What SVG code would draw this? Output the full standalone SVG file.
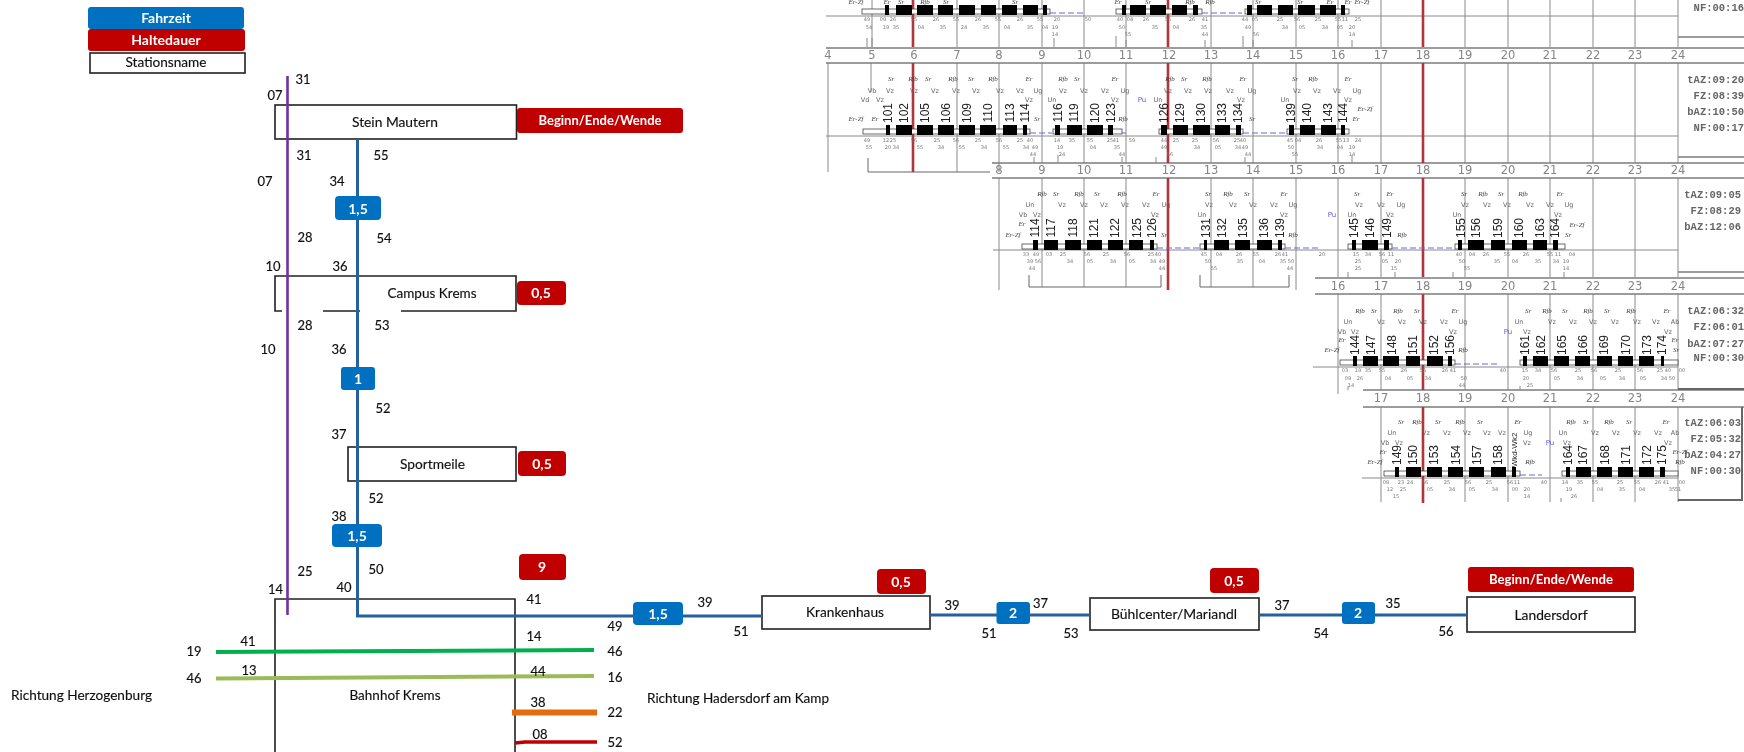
<svg xmlns="http://www.w3.org/2000/svg" width="1744" height="752" viewBox="0 0 1744 752">
<style>
text{font-family:Lato,"Liberation Sans",sans-serif}
.st{fill:#fff;stroke:#222;stroke-width:1.6}
.fr{fill:none;stroke:#222;stroke-width:1.6}
.blue{fill:#0070C0}.red{fill:#C00000}
.bt{fill:#fff;font-weight:700;text-anchor:middle}
.l{fill:#111;font-size:13px;text-anchor:middle;stroke:#111;stroke-width:.15}
.c{fill:#111;font-size:13px;text-anchor:middle;stroke:#111;stroke-width:.15}
.g{stroke:#8a8a8a;stroke-width:1;fill:none}
.k{stroke:#666;stroke-width:1;fill:none}
.h{stroke:#7c7c7c;stroke-width:1.6;fill:none}
.rd{stroke:#b0343c;stroke-width:2.600;fill:none}
.hl{font-family:"DejaVu Sans",sans-serif;font-size:11.5px;fill:#858585;text-anchor:middle}
.n{font-family:"Liberation Sans",sans-serif;font-size:12px;fill:#222;text-anchor:middle}
.i{font-family:"Liberation Serif",serif;font-style:italic;font-size:7px;fill:#444;text-anchor:middle}
.v{font-family:"DejaVu Sans",sans-serif;font-size:6.5px;fill:#666;text-anchor:middle}
.s{font-family:"DejaVu Sans",sans-serif;font-size:5px;fill:#777;text-anchor:middle}
.p{font-family:"DejaVu Sans",sans-serif;font-size:7px;fill:#5a5ae0;text-anchor:middle}
.m{font-family:"Liberation Mono",monospace;font-size:10.5px;fill:#666;text-anchor:end;font-weight:700}
.dash{stroke:#6a6ad8;stroke-width:1;stroke-dasharray:6 3;fill:none}
.tr{fill:#fff;stroke:#444;stroke-width:.8}
</style>
<defs>
<filter id="b1" x="-2%" y="-2%" width="104%" height="104%"><feGaussianBlur stdDeviation="0.4"/></filter>
<filter id="b2" x="-2%" y="-2%" width="104%" height="104%"><feGaussianBlur stdDeviation="0.55"/></filter>
</defs>
<rect width="1744" height="752" fill="#fff"/>

<g id="umlaufplan" filter="url(#b2)">
<path class="g" d="M872 0V47M957 0V47M999 0V47M1042 0V47M1084 0V47M1126 0V47M1211 0V47M1253 0V47M1296 0V47M1338 0V47M1381 0V47M1465 0V47M1508 0V47M1550 0V47M1593 0V47M1635 0V47M1678 0V47"/>
<path class="g" d="M826 16H1678"/>
<path class="g" d="M828 63V172M871 63V92M957 63V172M999 63V172M1042 63V163M1084 63V163M1126 63V163M1211 63V163M1253 63V163M1296 63V163M1338 63V163M1381 63V163M1465 63V163M1508 63V163M1550 63V163M1593 63V163M1635 63V163M1678 63V163"/>
<path class="g" d="M826 136H1678"/>
<path class="k" d="M868 158V172H990"/>
<path class="g" d="M999 178V290M1042 178V287M1084 178V287M1126 178V287M1211 178V287M1253 178V287M1296 178V290M1338 178V277M1381 178V277M1465 178V277M1508 178V277M1550 178V277M1593 178V277M1635 178V277M1678 178V277"/>
<path class="g" d="M993 250H1678"/>
<path class="k" d="M1029 275V287H1161V275M1200 275V287H1289V275"/>
<path class="g" d="M1338 294V394M1381 294V390M1465 294V390M1508 294V390M1550 294V390M1593 294V390M1635 294V390M1678 294V390"/>
<path class="g" d="M1313 367H1678"/>
<path class="g" d="M1381 407V502M1465 407V502M1508 407V502M1550 407V502M1593 407V502M1635 407V502M1678 407V502"/>
<path class="g" d="M1362 478H1678"/>
<path class="h" d="M826 48H1744M826 63H1744M992 163H1744M992 178H1744M1315 278H1744M1315 294H1744M1363 390H1744M1363 407H1744"/>
<path class="h" d="M1678 37H1744M1678 157H1744M1678 272H1744"/>
<path d="M1678 389H1744M1678 500H1742V407" fill="none" stroke="#666" stroke-width="2"/>
<path class="rd" d="M913 0V47M1168 0V47M1423 0V47M913 63V172M1168 63V163M1423 63V163M1168 178V290M1423 178V277M1423 294V390M1423 407V503"/>
<text class="hl" y="59"><tspan x="828">4</tspan><tspan x="872">5</tspan><tspan x="914">6</tspan><tspan x="957">7</tspan><tspan x="999">8</tspan><tspan x="1042">9</tspan><tspan x="1084">10</tspan><tspan x="1126">11</tspan><tspan x="1169">12</tspan><tspan x="1211">13</tspan><tspan x="1253">14</tspan><tspan x="1296">15</tspan><tspan x="1338">16</tspan><tspan x="1381">17</tspan><tspan x="1423">18</tspan><tspan x="1465">19</tspan><tspan x="1508">20</tspan><tspan x="1550">21</tspan><tspan x="1593">22</tspan><tspan x="1635">23</tspan><tspan x="1678">24</tspan></text>
<text class="hl" y="174"><tspan x="999">8</tspan><tspan x="1042">9</tspan><tspan x="1084">10</tspan><tspan x="1126">11</tspan><tspan x="1169">12</tspan><tspan x="1211">13</tspan><tspan x="1253">14</tspan><tspan x="1296">15</tspan><tspan x="1338">16</tspan><tspan x="1381">17</tspan><tspan x="1423">18</tspan><tspan x="1465">19</tspan><tspan x="1508">20</tspan><tspan x="1550">21</tspan><tspan x="1593">22</tspan><tspan x="1635">23</tspan><tspan x="1678">24</tspan></text>
<text class="hl" y="290"><tspan x="1338">16</tspan><tspan x="1381">17</tspan><tspan x="1423">18</tspan><tspan x="1465">19</tspan><tspan x="1508">20</tspan><tspan x="1550">21</tspan><tspan x="1593">22</tspan><tspan x="1635">23</tspan><tspan x="1678">24</tspan></text>
<text class="hl" y="402"><tspan x="1381">17</tspan><tspan x="1423">18</tspan><tspan x="1465">19</tspan><tspan x="1508">20</tspan><tspan x="1550">21</tspan><tspan x="1593">22</tspan><tspan x="1635">23</tspan><tspan x="1678">24</tspan></text>
<rect class="tr" x="862" y="9" width="188" height="5"/><rect class="tr" x="1116" y="9" width="86" height="5"/><rect class="tr" x="1245" y="9" width="104" height="5"/>
<rect class="tr" x="863" y="129" width="167" height="5"/><rect class="tr" x="1053" y="129" width="69" height="5"/><rect class="tr" x="1159" y="129" width="84" height="5"/><rect class="tr" x="1287" y="129" width="62" height="5"/>
<rect class="tr" x="1022" y="244" width="135" height="5"/><rect class="tr" x="1200" y="244" width="85" height="5"/><rect class="tr" x="1348" y="244" width="44" height="5"/><rect class="tr" x="1455" y="244" width="110" height="5"/>
<rect class="tr" x="1340" y="360" width="115" height="5"/><rect class="tr" x="1520" y="360" width="158" height="5"/>
<rect class="tr" x="1384" y="471" width="136" height="5"/><rect class="tr" x="1562" y="471" width="116" height="5"/>
<path class="dash" d="M1050 13H1083M1202 13H1242M1030 133H1052M1122 133H1126M1243 133H1285M1157 248H1200M1285 248H1318M1392 248H1453M1455 364H1500M1520 475H1542"/>
<path fill="#000" d="M885 5h4v10h-4zM896 5h16v10h-16zM917 5h16v10h-16zM938 5h15v10h-15zM959 5h16v10h-16zM981 5h15v10h-15zM1002 5h15v10h-15zM1023 5h15v10h-15zM1043 5h4v10h-4zM1122 5h4v10h-4zM1130 5h16v10h-16zM1150 5h16v10h-16zM1172 5h15v10h-15zM1193 5h5v10h-5zM1247 5h5v10h-5zM1257 5h15v10h-15zM1278 5h15v10h-15zM1298 5h17v10h-17zM1320 5h16v10h-16zM1341 5h4v10h-4z"/>
<path fill="#000" d="M886 125h4v10h-4zM896 125h16v10h-16zM917 125h16v10h-16zM938 125h16v10h-16zM959 125h16v10h-16zM980 125h16v10h-16zM1003 125h14v10h-14zM1023 125h4v10h-4zM1055 125h5v10h-5zM1067 125h15v10h-15zM1087 125h16v10h-16zM1108 125h5v10h-5zM1161 125h6v10h-6zM1173 125h15v10h-15zM1193 125h17v10h-17zM1215 125h15v10h-15zM1236 125h5v10h-5zM1289 125h5v10h-5zM1300 125h15v10h-15zM1321 125h15v10h-15zM1341 125h4v10h-4z"/>
<path fill="#000" d="M1033 240h5v10h-5zM1044 240h14v10h-14zM1065 240h16v10h-16zM1087 240h15v10h-15zM1108 240h15v10h-15zM1129 240h14v10h-14zM1150 240h4v10h-4zM1204 240h3v10h-3zM1214 240h15v10h-15zM1235 240h15v10h-15zM1257 240h15v10h-15zM1278 240h4v10h-4zM1352 240h4v10h-4zM1362 240h16v10h-16zM1384 240h5v10h-5zM1458 240h4v10h-4zM1468 240h16v10h-16zM1491 240h14v10h-14zM1512 240h15v10h-15zM1533 240h14v10h-14zM1553 240h5v10h-5z"/>
<path fill="#000" d="M1353 356h4v10h-4zM1363 356h15v10h-15zM1383 356h16v10h-16zM1406 356h14v10h-14zM1427 356h16v10h-16zM1448 356h4v10h-4zM1523 356h4v10h-4zM1533 356h15v10h-15zM1554 356h15v10h-15zM1575 356h15v10h-15zM1597 356h15v10h-15zM1618 356h15v10h-15zM1639 356h15v10h-15zM1661 356h3v10h-3z"/>
<path fill="#000" d="M1395 467h4v10h-4zM1406 467h15v10h-15zM1427 467h15v10h-15zM1448 467h15v10h-15zM1469 467h15v10h-15zM1491 467h15v10h-15zM1512 467h4v10h-4zM1566 467h4v10h-4zM1576 467h15v10h-15zM1597 467h15v10h-15zM1618 467h15v10h-15zM1639 467h15v10h-15zM1660 467h5v10h-5z"/>
<text class="n" transform="translate(892,113) rotate(-90)">101</text><text class="n" transform="translate(908,113) rotate(-90)">102</text><text class="n" transform="translate(929,113) rotate(-90)">105</text><text class="n" transform="translate(950,113) rotate(-90)">106</text><text class="n" transform="translate(971,113) rotate(-90)">109</text><text class="n" transform="translate(992,113) rotate(-90)">110</text><text class="n" transform="translate(1014,113) rotate(-90)">113</text><text class="n" transform="translate(1029,113) rotate(-90)">114</text><text class="n" transform="translate(1062,113) rotate(-90)">116</text><text class="n" transform="translate(1078,113) rotate(-90)">119</text><text class="n" transform="translate(1099,113) rotate(-90)">120</text><text class="n" transform="translate(1115,113) rotate(-90)">123</text><text class="n" transform="translate(1168,113) rotate(-90)">126</text><text class="n" transform="translate(1184,113) rotate(-90)">129</text><text class="n" transform="translate(1205,113) rotate(-90)">130</text><text class="n" transform="translate(1226,113) rotate(-90)">133</text><text class="n" transform="translate(1242,113) rotate(-90)">134</text><text class="n" transform="translate(1295,113) rotate(-90)">139</text><text class="n" transform="translate(1311,113) rotate(-90)">140</text><text class="n" transform="translate(1332,113) rotate(-90)">143</text><text class="n" transform="translate(1347,113) rotate(-90)">144</text>
<text class="n" transform="translate(1039,228) rotate(-90)">114</text><text class="n" transform="translate(1055,228) rotate(-90)">117</text><text class="n" transform="translate(1077,228) rotate(-90)">118</text><text class="n" transform="translate(1098,228) rotate(-90)">121</text><text class="n" transform="translate(1119,228) rotate(-90)">122</text><text class="n" transform="translate(1141,228) rotate(-90)">125</text><text class="n" transform="translate(1156,228) rotate(-90)">126</text><text class="n" transform="translate(1210,228) rotate(-90)">131</text><text class="n" transform="translate(1226,228) rotate(-90)">132</text><text class="n" transform="translate(1247,228) rotate(-90)">135</text><text class="n" transform="translate(1268,228) rotate(-90)">136</text><text class="n" transform="translate(1284,228) rotate(-90)">139</text><text class="n" transform="translate(1358,228) rotate(-90)">145</text><text class="n" transform="translate(1374,228) rotate(-90)">146</text><text class="n" transform="translate(1391,228) rotate(-90)">149</text><text class="n" transform="translate(1465,228) rotate(-90)">155</text><text class="n" transform="translate(1480,228) rotate(-90)">156</text><text class="n" transform="translate(1502,228) rotate(-90)">159</text><text class="n" transform="translate(1523,228) rotate(-90)">160</text><text class="n" transform="translate(1544,228) rotate(-90)">163</text><text class="n" transform="translate(1559,228) rotate(-90)">164</text>
<text class="n" transform="translate(1359,345) rotate(-90)">144</text><text class="n" transform="translate(1375,345) rotate(-90)">147</text><text class="n" transform="translate(1396,345) rotate(-90)">148</text><text class="n" transform="translate(1417,345) rotate(-90)">151</text><text class="n" transform="translate(1438,345) rotate(-90)">152</text><text class="n" transform="translate(1454,345) rotate(-90)">156</text><text class="n" transform="translate(1529,345) rotate(-90)">161</text><text class="n" transform="translate(1545,345) rotate(-90)">162</text><text class="n" transform="translate(1566,345) rotate(-90)">165</text><text class="n" transform="translate(1587,345) rotate(-90)">166</text><text class="n" transform="translate(1608,345) rotate(-90)">169</text><text class="n" transform="translate(1630,345) rotate(-90)">170</text><text class="n" transform="translate(1651,345) rotate(-90)">173</text><text class="n" transform="translate(1666,345) rotate(-90)">174</text>
<text class="n" transform="translate(1401,455) rotate(-90)">149</text><text class="n" transform="translate(1417,455) rotate(-90)">150</text><text class="n" transform="translate(1438,455) rotate(-90)">153</text><text class="n" transform="translate(1460,455) rotate(-90)">154</text><text class="n" transform="translate(1481,455) rotate(-90)">157</text><text class="n" transform="translate(1502,455) rotate(-90)">158</text><text class="n" transform="translate(1517,450) rotate(-90)" style="font-size:8px">Wkd-Wk2</text><text class="n" transform="translate(1572,455) rotate(-90)">164</text><text class="n" transform="translate(1587,455) rotate(-90)">167</text><text class="n" transform="translate(1609,455) rotate(-90)">168</text><text class="n" transform="translate(1630,455) rotate(-90)">171</text><text class="n" transform="translate(1651,455) rotate(-90)">172</text><text class="n" transform="translate(1666,455) rotate(-90)">175</text>
<text class="i" y="4"><tspan x="856">Er-Zf</tspan><tspan x="887">Er</tspan><tspan x="901">Sr</tspan><tspan x="925">Rfb</tspan><tspan x="946">Sr</tspan><tspan x="1015">Sr</tspan><tspan x="1118">Er</tspan><tspan x="1148">Sr</tspan><tspan x="1190">Rfb</tspan><tspan x="1210">Rfb</tspan><tspan x="1258">Sr</tspan><tspan x="1300">Sr</tspan><tspan x="1330">Er</tspan><tspan x="1348">Er</tspan><tspan x="1362">Er-Zf</tspan></text>
<text class="i" y="81"><tspan x="891">Sr</tspan><tspan x="913">Rfb</tspan><tspan x="928">Sr</tspan><tspan x="953">Rfb</tspan><tspan x="971">Sr</tspan><tspan x="993">Rfb</tspan><tspan x="1029">Er</tspan><tspan x="1063">Rfb</tspan><tspan x="1077">Sr</tspan><tspan x="1115">Er</tspan><tspan x="1170">Rfb</tspan><tspan x="1184">Sr</tspan><tspan x="1207">Rfb</tspan><tspan x="1243">Er</tspan><tspan x="1295">Sr</tspan><tspan x="1313">Rfb</tspan><tspan x="1348">Er</tspan></text>
<text class="v" y="93"><tspan x="872">Vb</tspan><tspan x="890">Vz</tspan><tspan x="914">Vz</tspan><tspan x="935">Vz</tspan><tspan x="956">Vz</tspan><tspan x="976">Vz</tspan><tspan x="1000">Vz</tspan><tspan x="1020">Vz</tspan><tspan x="1038">Ug</tspan><tspan x="1063">Vz</tspan><tspan x="1084">Vz</tspan><tspan x="1105">Vz</tspan><tspan x="1125">Ug</tspan><tspan x="1168">Vz</tspan><tspan x="1188">Vz</tspan><tspan x="1208">Vz</tspan><tspan x="1230">Vz</tspan><tspan x="1252">Ug</tspan><tspan x="1297">Vz</tspan><tspan x="1317">Vz</tspan><tspan x="1337">Vz</tspan><tspan x="1357">Ug</tspan></text>
<text class="v" y="102"><tspan x="865">Vd</tspan><tspan x="880">Vz</tspan><tspan x="1029">Vz</tspan><tspan x="1052">Un</tspan><tspan x="1115">Vz</tspan><tspan x="1158">Un</tspan><tspan x="1241">Vz</tspan><tspan x="1285">Un</tspan><tspan x="1348">Vz</tspan></text>
<text class="p" x="1142" y="102">Pu</text>
<text class="i" y="121"><tspan x="856">Er-Zf</tspan><tspan x="875">Er</tspan><tspan x="1037">Sr</tspan><tspan x="1123">Rfb</tspan><tspan x="1252">Sr</tspan><tspan x="1356">Er</tspan></text>
<text class="i" x="1365" y="111">Er-Zf</text>
<text class="i" y="196"><tspan x="1042">Rfb</tspan><tspan x="1056">Sr</tspan><tspan x="1079">Rfb</tspan><tspan x="1097">Sr</tspan><tspan x="1122">Rfb</tspan><tspan x="1156">Er</tspan><tspan x="1208">Sr</tspan><tspan x="1228">Rfb</tspan><tspan x="1247">Sr</tspan><tspan x="1284">Er</tspan><tspan x="1357">Sr</tspan><tspan x="1390">Er</tspan><tspan x="1464">Sr</tspan><tspan x="1483">Rfb</tspan><tspan x="1501">Sr</tspan><tspan x="1523">Rfb</tspan><tspan x="1560">Er</tspan></text>
<text class="v" y="207"><tspan x="1030">Un</tspan><tspan x="1062">Vz</tspan><tspan x="1084">Vz</tspan><tspan x="1104">Vz</tspan><tspan x="1125">Vz</tspan><tspan x="1146">Vz</tspan><tspan x="1166">Ug</tspan><tspan x="1209">Vz</tspan><tspan x="1233">Vz</tspan><tspan x="1253">Vz</tspan><tspan x="1274">Vz</tspan><tspan x="1293">Ug</tspan><tspan x="1359">Vz</tspan><tspan x="1381">Vz</tspan><tspan x="1401">Ug</tspan><tspan x="1465">Vz</tspan><tspan x="1487">Vz</tspan><tspan x="1507">Vz</tspan><tspan x="1530">Vz</tspan><tspan x="1550">Vz</tspan><tspan x="1569">Ug</tspan></text>
<text class="v" y="217"><tspan x="1023">Vb</tspan><tspan x="1037">Vz</tspan><tspan x="1155">Vz</tspan><tspan x="1202">Un</tspan><tspan x="1284">Vz</tspan><tspan x="1352">Un</tspan><tspan x="1390">Vz</tspan><tspan x="1457">Un</tspan><tspan x="1558">Vz</tspan></text>
<text class="p" x="1332" y="217">Pu</text>
<text class="i" x="1022" y="226">Er</text>
<text class="i" y="237"><tspan x="1013">Er-Zf</tspan><tspan x="1164">Sr</tspan><tspan x="1293">Rfb</tspan><tspan x="1402">Rfb</tspan><tspan x="1568">Sr</tspan></text>
<text class="i" x="1577" y="227">Er-Zf</text>
<text class="i" y="313"><tspan x="1360">Rfb</tspan><tspan x="1374">Sr</tspan><tspan x="1398">Rfb</tspan><tspan x="1417">Sr</tspan><tspan x="1455">Er</tspan><tspan x="1528">Sr</tspan><tspan x="1547">Rfb</tspan><tspan x="1565">Sr</tspan><tspan x="1588">Rfb</tspan><tspan x="1607">Sr</tspan><tspan x="1631">Rfb</tspan><tspan x="1667">Er</tspan></text>
<text class="v" y="324"><tspan x="1348">Un</tspan><tspan x="1381">Vz</tspan><tspan x="1402">Vz</tspan><tspan x="1423">Vz</tspan><tspan x="1444">Vz</tspan><tspan x="1463">Ug</tspan><tspan x="1519">Un</tspan><tspan x="1552">Vz</tspan><tspan x="1573">Vz</tspan><tspan x="1593">Vz</tspan><tspan x="1615">Vz</tspan><tspan x="1637">Vz</tspan><tspan x="1656">Vz</tspan><tspan x="1675">Ab</tspan></text>
<text class="v" y="334"><tspan x="1342">Vb</tspan><tspan x="1355">Vz</tspan><tspan x="1453">Vz</tspan><tspan x="1527">Vz</tspan><tspan x="1668">Vz</tspan></text>
<text class="p" x="1508" y="334">Pu</text>
<text class="i" y="342"><tspan x="1342">Er</tspan><tspan x="1675">Er</tspan></text>
<text class="i" y="352"><tspan x="1332">Er-Zf</tspan><tspan x="1463">Rfb</tspan><tspan x="1676">Sr</tspan></text>
<text class="i" y="424"><tspan x="1401">Sr</tspan><tspan x="1417">Rfb</tspan><tspan x="1438">Sr</tspan><tspan x="1460">Rfb</tspan><tspan x="1480">Sr</tspan><tspan x="1518">Er</tspan><tspan x="1571">Rfb</tspan><tspan x="1586">Sr</tspan><tspan x="1609">Rfb</tspan><tspan x="1629">Sr</tspan><tspan x="1666">Er</tspan></text>
<text class="v" y="435"><tspan x="1392">Un</tspan><tspan x="1426">Vz</tspan><tspan x="1447">Vz</tspan><tspan x="1467">Vz</tspan><tspan x="1487">Vz</tspan><tspan x="1502">Vz</tspan><tspan x="1528">Ug</tspan><tspan x="1563">Un</tspan><tspan x="1595">Vz</tspan><tspan x="1616">Vz</tspan><tspan x="1637">Vz</tspan><tspan x="1658">Vz</tspan><tspan x="1675">Ab</tspan></text>
<text class="v" y="445"><tspan x="1385">Vb</tspan><tspan x="1399">Vz</tspan><tspan x="1527">Vz</tspan><tspan x="1567">Vz</tspan><tspan x="1668">Vz</tspan></text>
<text class="p" x="1550" y="445">Pu</text>
<text class="i" y="454"><tspan x="1383">Er</tspan><tspan x="1680">Er-Zf</tspan></text>
<text class="i" y="464"><tspan x="1375">Er-Zf</tspan><tspan x="1530">Rfb</tspan><tspan x="1680">Rfb</tspan></text>
<text class="s" y="21"><tspan x="867">49</tspan><tspan x="883">09</tspan><tspan x="893">26</tspan><tspan x="914">55</tspan><tspan x="936">26</tspan><tspan x="956">55</tspan><tspan x="978">26</tspan><tspan x="998">55</tspan><tspan x="1020">26</tspan><tspan x="1040">55</tspan><tspan x="1057">20</tspan><tspan x="1088">50</tspan><tspan x="1120">40</tspan><tspan x="1130">04</tspan><tspan x="1146">26</tspan><tspan x="1168">55</tspan><tspan x="1192">26</tspan><tspan x="1205">41</tspan><tspan x="1245">44</tspan><tspan x="1255">05</tspan><tspan x="1280">25</tspan><tspan x="1297">56</tspan><tspan x="1318">25</tspan><tspan x="1338">55</tspan><tspan x="1345">11</tspan><tspan x="1358">25</tspan></text>
<text class="s" y="29"><tspan x="869">54</tspan><tspan x="886">19</tspan><tspan x="896">35</tspan><tspan x="921">04</tspan><tspan x="943">35</tspan><tspan x="964">24</tspan><tspan x="986">35</tspan><tspan x="1007">04</tspan><tspan x="1030">35</tspan><tspan x="1045">04</tspan><tspan x="1055">19</tspan><tspan x="1122">50</tspan><tspan x="1155">35</tspan><tspan x="1176">04</tspan><tspan x="1204">35</tspan><tspan x="1248">49</tspan><tspan x="1285">34</tspan><tspan x="1302">05</tspan><tspan x="1325">34</tspan><tspan x="1340">05</tspan><tspan x="1352">20</tspan></text>
<text class="s" y="36"><tspan x="1055">14</tspan><tspan x="1128">55</tspan><tspan x="1205">44</tspan><tspan x="1256">56</tspan><tspan x="1352">14</tspan></text>
<text class="s" y="142"><tspan x="867">49</tspan><tspan x="886">12</tspan><tspan x="893">25</tspan><tspan x="914">56</tspan><tspan x="937">25</tspan><tspan x="956">56</tspan><tspan x="978">25</tspan><tspan x="999">56</tspan><tspan x="1020">25</tspan><tspan x="1030">40</tspan><tspan x="1057">14</tspan><tspan x="1072">35</tspan><tspan x="1090">55</tspan><tspan x="1110">25</tspan><tspan x="1116">41</tspan><tspan x="1132">59</tspan><tspan x="1164">44</tspan><tspan x="1176">25</tspan><tspan x="1195">25</tspan><tspan x="1216">56</tspan><tspan x="1237">25</tspan><tspan x="1243">40</tspan><tspan x="1290">45</tspan><tspan x="1298">04</tspan><tspan x="1319">26</tspan><tspan x="1339">55</tspan><tspan x="1346">13</tspan><tspan x="1358">24</tspan></text>
<text class="s" y="149"><tspan x="869">55</tspan><tspan x="888">20</tspan><tspan x="896">34</tspan><tspan x="920">55</tspan><tspan x="941">34</tspan><tspan x="962">55</tspan><tspan x="984">34</tspan><tspan x="1006">55</tspan><tspan x="1026">34</tspan><tspan x="1035">49</tspan><tspan x="1060">19</tspan><tspan x="1093">04</tspan><tspan x="1117">35</tspan><tspan x="1164">49</tspan><tspan x="1197">34</tspan><tspan x="1218">05</tspan><tspan x="1238">34</tspan><tspan x="1245">49</tspan><tspan x="1291">50</tspan><tspan x="1320">34</tspan><tspan x="1340">04</tspan><tspan x="1352">19</tspan></text>
<text class="s" y="156"><tspan x="1033">44</tspan><tspan x="1062">24</tspan><tspan x="1122">44</tspan><tspan x="1170">56</tspan><tspan x="1248">44</tspan><tspan x="1295">55</tspan><tspan x="1352">14</tspan></text>
<text class="s" y="256"><tspan x="1026">33</tspan><tspan x="1036">49</tspan><tspan x="1049">03</tspan><tspan x="1063">25</tspan><tspan x="1087">56</tspan><tspan x="1106">25</tspan><tspan x="1127">56</tspan><tspan x="1151">25</tspan><tspan x="1158">40</tspan><tspan x="1204">45</tspan><tspan x="1219">04</tspan><tspan x="1239">26</tspan><tspan x="1256">55</tspan><tspan x="1278">26</tspan><tspan x="1285">41</tspan><tspan x="1322">20</tspan><tspan x="1356">15</tspan><tspan x="1368">34</tspan><tspan x="1382">56</tspan><tspan x="1391">11</tspan><tspan x="1459">40</tspan><tspan x="1472">04</tspan><tspan x="1486">26</tspan><tspan x="1507">55</tspan><tspan x="1526">26</tspan><tspan x="1550">55</tspan><tspan x="1558">11</tspan><tspan x="1572">04</tspan></text>
<text class="s" y="263"><tspan x="1030">39</tspan><tspan x="1038">56</tspan><tspan x="1070">34</tspan><tspan x="1090">05</tspan><tspan x="1113">34</tspan><tspan x="1132">05</tspan><tspan x="1153">34</tspan><tspan x="1162">49</tspan><tspan x="1208">50</tspan><tspan x="1240">35</tspan><tspan x="1262">04</tspan><tspan x="1283">35</tspan><tspan x="1291">50</tspan><tspan x="1358">25</tspan><tspan x="1385">05</tspan><tspan x="1398">20</tspan><tspan x="1462">50</tspan><tspan x="1497">35</tspan><tspan x="1515">04</tspan><tspan x="1538">35</tspan><tspan x="1556">34</tspan><tspan x="1566">19</tspan></text>
<text class="s" y="270"><tspan x="1032">44</tspan><tspan x="1162">44</tspan><tspan x="1214">55</tspan><tspan x="1290">44</tspan><tspan x="1358">25</tspan><tspan x="1394">15</tspan><tspan x="1467">55</tspan><tspan x="1566">14</tspan></text>
<text class="s" y="372"><tspan x="1345">03</tspan><tspan x="1358">19</tspan><tspan x="1368">35</tspan><tspan x="1382">55</tspan><tspan x="1404">26</tspan><tspan x="1423">55</tspan><tspan x="1445">26</tspan><tspan x="1453">41</tspan><tspan x="1503">40</tspan><tspan x="1525">15</tspan><tspan x="1538">34</tspan><tspan x="1554">56</tspan><tspan x="1578">25</tspan><tspan x="1594">56</tspan><tspan x="1618">25</tspan><tspan x="1640">56</tspan><tspan x="1660">25</tspan><tspan x="1668">40</tspan><tspan x="1682">00</tspan></text>
<text class="s" y="380"><tspan x="1348">09</tspan><tspan x="1360">26</tspan><tspan x="1388">04</tspan><tspan x="1410">05</tspan><tspan x="1428">34</tspan><tspan x="1464">50</tspan><tspan x="1526">20</tspan><tspan x="1557">05</tspan><tspan x="1580">34</tspan><tspan x="1603">05</tspan><tspan x="1622">34</tspan><tspan x="1643">05</tspan><tspan x="1664">34</tspan><tspan x="1672">50</tspan></text>
<text class="s" y="387"><tspan x="1351">14</tspan><tspan x="1462">44</tspan><tspan x="1530">25</tspan></text>
<text class="s" y="484"><tspan x="1386">08</tspan><tspan x="1401">23</tspan><tspan x="1410">24</tspan><tspan x="1425">56</tspan><tspan x="1447">25</tspan><tspan x="1468">56</tspan><tspan x="1489">25</tspan><tspan x="1510">56</tspan><tspan x="1517">11</tspan><tspan x="1544">40</tspan><tspan x="1565">14</tspan><tspan x="1580">35</tspan><tspan x="1595">55</tspan><tspan x="1620">25</tspan><tspan x="1637">55</tspan><tspan x="1658">26</tspan><tspan x="1666">41</tspan><tspan x="1682">00</tspan></text>
<text class="s" y="491"><tspan x="1390">12</tspan><tspan x="1403">25</tspan><tspan x="1430">05</tspan><tspan x="1452">34</tspan><tspan x="1472">05</tspan><tspan x="1495">34</tspan><tspan x="1515">00</tspan><tspan x="1527">20</tspan><tspan x="1569">19</tspan><tspan x="1600">04</tspan><tspan x="1622">35</tspan><tspan x="1642">04</tspan><tspan x="1672">35</tspan><tspan x="1678">51</tspan></text>
<text class="s" y="498"><tspan x="1396">15</tspan><tspan x="1527">14</tspan><tspan x="1574">26</tspan></text>
<path class="g" d="M867 38V47M872 38V47M1054 38V47M1116 36V47M1126 40V47M1205 40V47M1243 36V47M1253 40V47M1352 40V47M1034 157V163M1058 155V163M1122 157V163M1156 157V163M1245 157V163M1352 155V163M1348 272V278M1395 272V278M1453 272V278M1564 272V278M1348 386V390M1520 386V390M1561 498V502"/>
<text class="m" x="1744" y="11">NF:00:16</text>
<text class="m" x="1744" y="83">tAZ:09:20</text><text class="m" x="1744" y="99">FZ:08:39</text><text class="m" x="1744" y="115">bAZ:10:50</text><text class="m" x="1744" y="131">NF:00:17</text>
<text class="m" x="1741" y="198">tAZ:09:05</text><text class="m" x="1741" y="214">FZ:08:29</text><text class="m" x="1741" y="230">bAZ:12:06</text>
<text class="m" x="1744" y="314">tAZ:06:32</text><text class="m" x="1744" y="330">FZ:06:01</text><text class="m" x="1744" y="347">bAZ:07:27</text><text class="m" x="1744" y="361">NF:00:30</text>
<text class="m" x="1741" y="426">tAZ:06:03</text><text class="m" x="1741" y="442">FZ:05:32</text><text class="m" x="1741" y="458">bAZ:04:27</text><text class="m" x="1741" y="474">NF:00:30</text>
</g>

<g filter="url(#b1)">
<g id="legende">
<rect class="blue" x="88" y="7" width="156" height="22" rx="3"/><text class="bt" x="166" y="23" font-size="14">Fahrzeit</text>
<rect class="red" x="88" y="29" width="157" height="22" rx="3"/><text class="bt" x="166" y="45" font-size="14">Haltedauer</text>
<rect class="st" x="90" y="53" width="155" height="20"/><text class="c" x="166" y="67" textLength="81" lengthAdjust="spacingAndGlyphs">Stationsname</text>
</g>
<g id="stein-mautern-box"><rect class="st" x="275" y="105" width="241.5" height="34"/><text class="c" x="395" y="127" textLength="86" lengthAdjust="spacingAndGlyphs">Stein Mautern</text></g>
<g id="campus-krems-box"><path class="fr" d="M282 311H275V276H516V311H401M323 311H360"/><text class="c" x="432" y="298" textLength="89" lengthAdjust="spacingAndGlyphs">Campus Krems</text></g>
<g id="sportmeile-box"><rect class="st" x="348" y="447" width="168" height="34"/><text class="c" x="432.500" y="469" textLength="65" lengthAdjust="spacingAndGlyphs">Sportmeile</text></g>
<g id="bahnhof-krems-box"><path class="fr" d="M275 752V599H515V752"/><text class="c" x="395" y="700" textLength="91" lengthAdjust="spacingAndGlyphs">Bahnhof Krems</text></g>
<g id="krankenhaus-box"><rect class="st" x="762" y="596" width="168" height="33"/><text class="c" x="845" y="617" textLength="78" lengthAdjust="spacingAndGlyphs">Krankenhaus</text></g>
<g id="buehlcenter-box"><rect class="st" x="1090" y="598" width="169" height="32"/><text class="c" x="1174" y="619" textLength="126" lengthAdjust="spacingAndGlyphs">Bühlcenter/Mariandl</text></g>
<g id="landersdorf-box"><rect class="st" x="1467" y="597" width="168" height="35"/><text class="c" x="1551" y="620" textLength="73" lengthAdjust="spacingAndGlyphs">Landersdorf</text></g>

<g id="connectors" fill="none">
<path d="M287.500 76V615" stroke="#7030A0" stroke-width="2.600"/>
<path d="M357.500 139V616H762M930 615H1090M1259 615H1467" stroke="#25619D" stroke-width="3"/>
<path d="M216 652L594 650" stroke="#00B050" stroke-width="4"/>
<path d="M216 678.500L594 676" stroke="#9BBB59" stroke-width="4"/>
<path d="M512 712.500H597" stroke="#E46C0A" stroke-width="6"/>
<path d="M515 743L525 742H597" stroke="#C00000" stroke-width="3.500"/>
</g>

<g id="badges">
<g id="b-stein"><rect class="red" x="517" y="108" width="166" height="25" rx="3"/><text class="bt" x="600" y="125" font-size="12.500" textLength="123" lengthAdjust="spacingAndGlyphs">Beginn/Ende/Wende</text></g>
<g id="b-fz1"><rect class="blue" x="335" y="196" width="46" height="24" rx="4"/><text class="bt" x="358" y="214" font-size="14">1,5</text></g>
<g id="b-campus"><rect class="red" x="517" y="281" width="49" height="24" rx="4"/><text class="bt" x="541" y="298" font-size="14">0,5</text></g>
<g id="b-fz2"><rect class="blue" x="341" y="367" width="34" height="23" rx="3"/><text class="bt" x="358" y="384" font-size="14">1</text></g>
<g id="b-sport"><rect class="red" x="518" y="451" width="48" height="25" rx="4"/><text class="bt" x="542" y="469" font-size="14">0,5</text></g>
<g id="b-fz3"><rect class="blue" x="332" y="524" width="50" height="23" rx="4"/><text class="bt" x="357" y="541" font-size="14">1,5</text></g>
<g id="b-bahnhof"><rect class="red" x="519" y="554" width="47" height="26" rx="4"/><text class="bt" x="542" y="572" font-size="14">9</text></g>
<g id="b-fz4"><rect class="blue" x="633" y="602" width="50" height="23" rx="4"/><text class="bt" x="658" y="619" font-size="14">1,5</text></g>
<g id="b-kranken"><rect class="red" x="877" y="569" width="49" height="25" rx="4"/><text class="bt" x="901" y="587" font-size="14">0,5</text></g>
<g id="b-fz5"><rect class="blue" x="996.500" y="602" width="33.500" height="22" rx="3"/><text class="bt" x="1013" y="618" font-size="14">2</text></g>
<g id="b-buehl"><rect class="red" x="1210" y="568" width="49" height="25" rx="4"/><text class="bt" x="1234" y="586" font-size="14">0,5</text></g>
<g id="b-fz6"><rect class="blue" x="1342" y="602" width="33" height="22" rx="3"/><text class="bt" x="1358" y="618" font-size="14">2</text></g>
<g id="b-landers"><rect class="red" x="1468" y="567" width="166" height="25" rx="3"/><text class="bt" x="1551" y="584" font-size="12.500" textLength="124" lengthAdjust="spacingAndGlyphs">Beginn/Ende/Wende</text></g>
</g>

<g id="zeiten">
<text class="l" x="303" y="84">31</text><text class="l" x="275" y="100">07</text>
<text class="l" x="304" y="160">31</text><text class="l" x="381" y="160">55</text><text class="l" x="265" y="186">07</text><text class="l" x="337" y="186">34</text>
<text class="l" x="305" y="242">28</text><text class="l" x="384" y="243">54</text><text class="l" x="273" y="271">10</text><text class="l" x="340" y="271">36</text>
<text class="l" x="305" y="330">28</text><text class="l" x="382" y="330">53</text><text class="l" x="268" y="354">10</text><text class="l" x="339" y="354">36</text>
<text class="l" x="383" y="413">52</text><text class="l" x="339" y="439">37</text><text class="l" x="376" y="503">52</text><text class="l" x="339" y="521">38</text>
<text class="l" x="376" y="574">50</text><text class="l" x="305" y="576">25</text><text class="l" x="275.500" y="594">14</text><text class="l" x="344" y="592">40</text><text class="l" x="534" y="604">41</text>
<text class="l" x="705" y="607">39</text><text class="l" x="615" y="631">49</text><text class="l" x="741" y="636">51</text>
<text class="l" x="194" y="656">19</text><text class="l" x="248" y="646">41</text><text class="l" x="534" y="641">14</text><text class="l" x="615" y="656">46</text>
<text class="l" x="194" y="683">46</text><text class="l" x="249" y="675">13</text><text class="l" x="538" y="676">44</text><text class="l" x="615" y="682">16</text>
<text class="l" x="538" y="707">38</text><text class="l" x="615" y="717">22</text><text class="l" x="540" y="739">08</text><text class="l" x="615" y="747">52</text>
<text class="l" x="952" y="610">39</text><text class="l" x="1040.500" y="608">37</text><text class="l" x="989" y="638">51</text><text class="l" x="1071" y="638">53</text>
<text class="l" x="1282" y="610">37</text><text class="l" x="1393" y="608">35</text><text class="l" x="1321" y="638">54</text><text class="l" x="1446" y="636">56</text>
</g>
<g id="richtungen">
<text class="l" x="81.500" y="700" textLength="141" lengthAdjust="spacingAndGlyphs">Richtung Herzogenburg</text>
<text class="l" x="738" y="703" textLength="182" lengthAdjust="spacingAndGlyphs">Richtung Hadersdorf am Kamp</text>
</g>
</g>
</svg>
